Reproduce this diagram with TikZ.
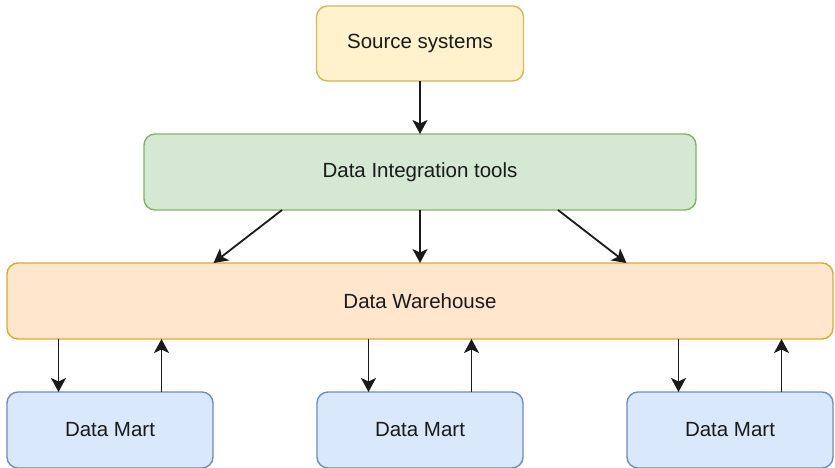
\documentclass[tikz,border=0pt]{standalone}
\usepackage{fontspec}
\setmainfont{Liberation Sans}
\usepackage{xcolor}
\usetikzlibrary{arrows.meta,positioning,calc}
\definecolor{blokzuta}{HTML}{FFF2CC}
\definecolor{ivicazuta}{HTML}{D6B656}
\definecolor{blokzelena}{HTML}{D5E8D4}
\definecolor{ivicazelena}{HTML}{82B366}
\definecolor{bloknarandzasta}{HTML}{FFE6CC}
\definecolor{ivicanarandzasta}{HTML}{E0A832}
\definecolor{blokplava}{HTML}{DAE8FC}
\definecolor{ivicaplava}{HTML}{6C8EBF}
\definecolor{tekst}{HTML}{1A1A1A}

\begin{document}
\begin{tikzpicture}[
    x=1pt,y=1pt,
    node distance=53pt and 104pt,
    blok/.style={rectangle,rounded corners=11pt,draw=ivicaplava,line width=1.4pt,
                 fill=blokplava,minimum width=206pt,minimum height=76pt,
                 inner sep=0pt,outer sep=0pt,align=center,text=tekst,
                 font=\fontsize{20.5}{24}\selectfont},
    blokzu/.style={blok,fill=blokzuta,draw=ivicazuta,minimum width=207pt,minimum height=75pt},
    blokz/.style={blok,fill=blokzelena,draw=ivicazelena,minimum width=552pt},
    blokn/.style={blok,fill=bloknarandzasta,draw=ivicanarandzasta,minimum width=826pt},
    strelica/.style={-{Stealth[length=14pt,width=15pt,inset=3.5pt]},line width=1.8pt,draw=tekst}
]
\useasboundingbox (0,0) rectangle (835,-467);
\node[blokzu] (izvor) at (420,-43.5) {Source systems};
\node[blokz,below=of izvor] (integracija) {Data Integration tools};
\node[blokn,below=of integracija] (skladiste) {Data Warehouse};
\node[blok,below=of skladiste] (mart2) {Data Mart};
\node[blok,left=of mart2] (mart1) {Data Mart};
\node[blok,right=of mart2] (mart3) {Data Mart};

% tacke na cetvrtinama ivica
\coordinate (m1d) at ($(mart1.north west)!.25!(mart1.north east)$);
\coordinate (m1g) at ($(mart1.north west)!.75!(mart1.north east)$);
\coordinate (m2d) at ($(mart2.north west)!.25!(mart2.north east)$);
\coordinate (m2g) at ($(mart2.north west)!.75!(mart2.north east)$);
\coordinate (m3d) at ($(mart3.north west)!.25!(mart3.north east)$);
\coordinate (m3g) at ($(mart3.north west)!.75!(mart3.north east)$);

\draw[strelica] (izvor) -- (integracija);
\draw[strelica] ($(integracija.south west)!.25!(integracija.south east)$) -- ($(skladiste.north west)!.25!(skladiste.north east)$);
\draw[strelica] (integracija) -- (skladiste);
\draw[strelica] ($(integracija.south west)!.75!(integracija.south east)$) -- ($(skladiste.north west)!.75!(skladiste.north east)$);
\draw[strelica] (skladiste.south -| m1d) -- (m1d);
\draw[strelica] (m1g) -- (skladiste.south -| m1g);
\draw[strelica] (skladiste.south -| m2d) -- (m2d);
\draw[strelica] (m2g) -- (skladiste.south -| m2g);
\draw[strelica] (skladiste.south -| m3d) -- (m3d);
\draw[strelica] (m3g) -- (skladiste.south -| m3g);
\end{tikzpicture}
\end{document}
